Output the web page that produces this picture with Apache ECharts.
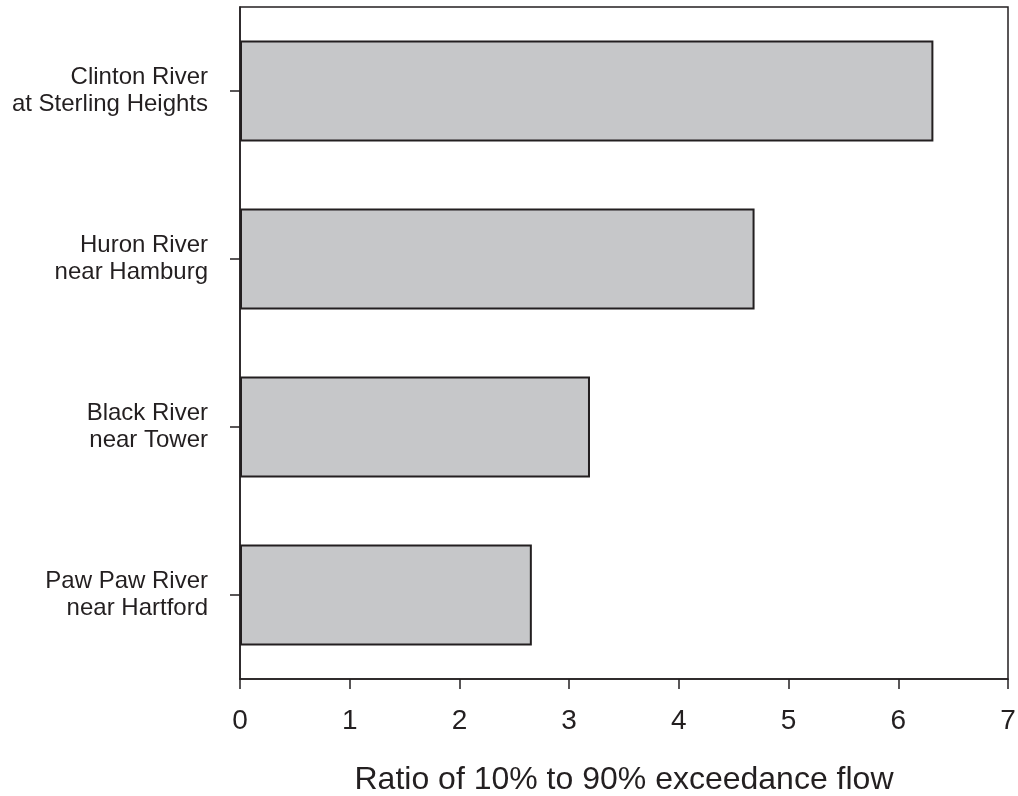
<!DOCTYPE html>
<html>
<head>
<meta charset="utf-8">
<script src="https://cdn.jsdelivr.net/npm/echarts@6/dist/echarts.min.js"></script>
<style>
html,body{margin:0;padding:0;background:#fff;}
#chart{width:1018px;height:796px;}
</style>
</head>
<body>
<div id="chart"></div>
<script>
var categories = [
  "Clinton River\nat Sterling Heights",
  "Huron River\nnear Hamburg",
  "Black River\nnear Tower",
  "Paw Paw River\nnear Hartford"
];
var ratios = [6.32, 4.69, 3.19, 2.66];
var xTicks = [0, 1, 2, 3, 4, 5, 6, 7];
var xAxisTitle = "Ratio of 10% to 90% exceedance flow";

var chart = echarts.init(document.getElementById('chart'));
chart.setOption({
  animation: false,
  backgroundColor: '#fff',
  textStyle: { fontFamily: 'Liberation Sans, Arial, sans-serif', color: '#231f20' },
  grid: {
    left: 240, right: 10, top: 7, bottom: 117,
    containLabel: false,
    outerBoundsMode: 'none',
    show: true, borderColor: '#231f20', borderWidth: 1.5, backgroundColor: 'transparent'
  },
  xAxis: {
    type: 'value',
    min: xTicks[0], max: xTicks[xTicks.length - 1], interval: 1,
    name: xAxisTitle,
    nameLocation: 'middle',
    nameGap: 85,
    nameTextStyle: { fontSize: 32, color: '#231f20', fontFamily: 'Liberation Sans, Arial, sans-serif' },
    axisLine: { show: true, lineStyle: { color: '#231f20', width: 1.5 } },
    axisTick: { show: true, inside: false, length: 10, lineStyle: { color: '#231f20', width: 1.5 } },
    axisLabel: { fontSize: 28, margin: 28, color: '#231f20' },
    splitLine: { show: false }
  },
  yAxis: {
    type: 'category',
    data: categories,
    inverse: true,
    axisLine: { show: true, lineStyle: { color: '#231f20', width: 1.5 } },
    axisTick: { show: true, inside: false, length: 10, alignWithLabel: true, lineStyle: { color: '#231f20', width: 1.5 } },
    axisLabel: { fontSize: 24, lineHeight: 27, margin: 32, align: 'right', color: '#231f20' },
    splitLine: { show: false }
  },
  series: [{
    type: 'bar',
    data: ratios,
    barCategoryGap: '40%',
    itemStyle: { color: '#c6c7c9', borderColor: '#231f20', borderWidth: 2 }
  }]
});
</script>
</body>
</html>
